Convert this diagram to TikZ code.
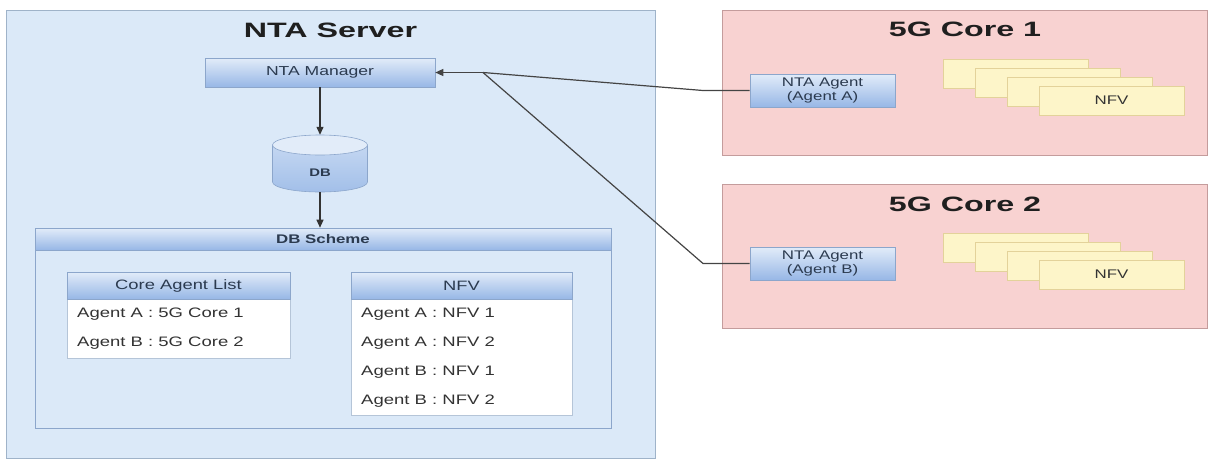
\documentclass[tikz,border=0pt]{standalone}
\usepackage{fontspec}
\setmainfont{Liberation Sans}[FakeStretch=1.35]
\newfontfamily\titlefont{Liberation Sans}[FakeStretch=1.55]
\usetikzlibrary{arrows.meta,shadings}
\definecolor{serverfill}{HTML}{DBE9F8}
\definecolor{serverborder}{HTML}{9FB3C9}
\definecolor{corefill}{HTML}{F8D2D1}
\definecolor{coreborder}{HTML}{C49C9C}
\definecolor{nfvfill}{HTML}{FDF5C9}
\definecolor{nfvborder}{HTML}{E3D29A}
\definecolor{gtop}{HTML}{E2ECF9}
\definecolor{gbot}{HTML}{97B7E6}
\definecolor{gborder}{HTML}{8CA6CB}
\definecolor{tabborder}{HTML}{B5C5D8}
\definecolor{txt}{HTML}{333333}
\definecolor{hdtxt}{HTML}{2B3A4F}
\definecolor{conncol}{HTML}{444444}
\tikzset{
  titletext/.style={font=\titlefont\bfseries\fontsize{20.8}{24}\selectfont, text=black!88},
  gradbox/.style={draw=gborder, top color=gtop, bottom color=gbot, line width=0.6pt, inner sep=0pt},
  hdtext/.style={font=\fontsize{13.6}{16}\selectfont, text=hdtxt},
  rowtext/.style={font=\fontsize{13.7}{16}\selectfont, text=txt, anchor=west, inner sep=0pt},
  tabbody/.style={draw=tabborder, fill=white, line width=0.6pt},
  corebox/.style={draw=coreborder, fill=corefill, line width=0.8pt},
  nfvbox/.style={draw=nfvborder, fill=nfvfill, line width=0.6pt, minimum width=145pt, minimum height=29pt, inner sep=0pt},
  conn/.style={draw=conncol, line width=1.2pt},
  arr/.style={draw=black!80, line width=1.2pt, -{Triangle[length=8pt,width=7pt]}},
}
\begin{document}
\begin{tikzpicture}[x=1pt,y=-1pt]
\useasboundingbox (0,0) rectangle (1210,461);
% ---------------- NTA Server
\node[draw=serverborder, fill=serverfill, line width=0.8pt, minimum width=649pt, minimum height=448pt, inner sep=0pt] (server) at (330.5,234) {};
\node[titletext] (servertitle) at (330.5,30) {NTA Server};
\node[gradbox, minimum width=230pt, minimum height=29pt, font=\fontsize{13}{15}\selectfont, text=hdtxt] (manager) at (320,72.5) {NTA Manager};
% DB cylinder
\node[minimum width=95pt, minimum height=57pt, inner sep=0pt] (db) at (320,163.5) {};
\path[draw=gborder, line width=0.6pt, top color=gtop!60!gbot, bottom color=gbot!85!gtop]
  (272.5,145) -- (272.5,182) arc (180:0:47.5 and 10) -- (367.5,145) -- cycle;
\path[draw=gborder, line width=0.6pt, fill=gtop] (320,145) ellipse (47.5 and 10);
\node[font=\bfseries\fontsize{11}{13}\selectfont, text=hdtxt] (dbtext) at (320,173) {DB};
% DB Scheme
\node[draw=gborder, fill=serverfill, line width=0.6pt, minimum width=576pt, minimum height=200pt, inner sep=0pt] (dbscheme) at (323,328) {};
\node[gradbox, minimum width=576pt, minimum height=22pt, font=\bfseries\fontsize{12.5}{15}\selectfont, text=hdtxt] (dbhead) at (323,239) {DB Scheme};
% Core Agent List table
\node[tabbody, minimum width=223pt, minimum height=59pt, inner sep=0pt] (calbody) at (178.5,328.5) {};
\node[gradbox, minimum width=223pt, minimum height=27pt, hdtext] (calhead) at (178.5,285.5) {Core Agent List};
\node[rowtext] (cal1) at (77,314) {Agent A : 5G Core 1};
\node[rowtext] (cal2) at (77,343) {Agent B : 5G Core 2};
% NFV table
\node[tabbody, minimum width=221pt, minimum height=116pt, inner sep=0pt] (nfvbody) at (461.5,357) {};
\node[gradbox, minimum width=221pt, minimum height=27pt, hdtext] (nfvhead) at (461.5,285.5) {NFV};
\node[rowtext] (nfv1) at (361,314) {Agent A : NFV 1};
\node[rowtext] (nfv2) at (361,343) {Agent A : NFV 2};
\node[rowtext] (nfv3) at (361,372) {Agent B : NFV 1};
\node[rowtext] (nfv4) at (361,401) {Agent B : NFV 2};
% ---------------- 5G Core 1
\node[corebox, minimum width=485pt, minimum height=145pt, inner sep=0pt] (core1) at (964.5,82.5) {};
\node[titletext] (core1title) at (965,29) {5G Core 1};
\node[gradbox, minimum width=145pt, minimum height=33pt, align=center, font=\fontsize{12.5}{14.5}\selectfont, text=hdtxt] (agentA) at (822.5,90.5) {NTA Agent\\(Agent A)};
\node[nfvbox] (c1n1) at (1015.5,73.5) {};
\node[nfvbox] (c1n2) at (1047.5,82.5) {};
\node[nfvbox] (c1n3) at (1079.5,91.5) {};
\node[nfvbox, font=\fontsize{12.5}{15}\selectfont, text=txt] (c1n4) at (1111.5,100.5) {NFV};
% ---------------- 5G Core 2
\node[corebox, minimum width=485pt, minimum height=144pt, inner sep=0pt] (core2) at (964.5,256) {};
\node[titletext] (core2title) at (965,204) {5G Core 2};
\node[gradbox, minimum width=145pt, minimum height=33pt, align=center, font=\fontsize{12.5}{14.5}\selectfont, text=hdtxt] (agentB) at (822.5,263.5) {NTA Agent\\(Agent B)};
\node[nfvbox] (c2n1) at (1015.5,247.5) {};
\node[nfvbox] (c2n2) at (1047.5,256.5) {};
\node[nfvbox] (c2n3) at (1079.5,265.5) {};
\node[nfvbox, font=\fontsize{12.5}{15}\selectfont, text=txt] (c2n4) at (1111.5,274.5) {NFV};
% ---------------- connectors
\draw[arr] (manager.south) -- (db.north);
\draw[arr] (db.south) -- (db.south |- dbscheme.north);
\coordinate (j) at (483,72.5);
\coordinate (ka) at (703,90.5);
\coordinate (kb) at (703,263.5);
\draw[conn] (agentA.west) -- (ka) -- (j);
\draw[conn] (agentB.west) -- (kb) -- (j);
\draw[conn, -{Triangle[length=8pt,width=7pt]}] (j) -- (manager.east);
\end{tikzpicture}
\end{document}
